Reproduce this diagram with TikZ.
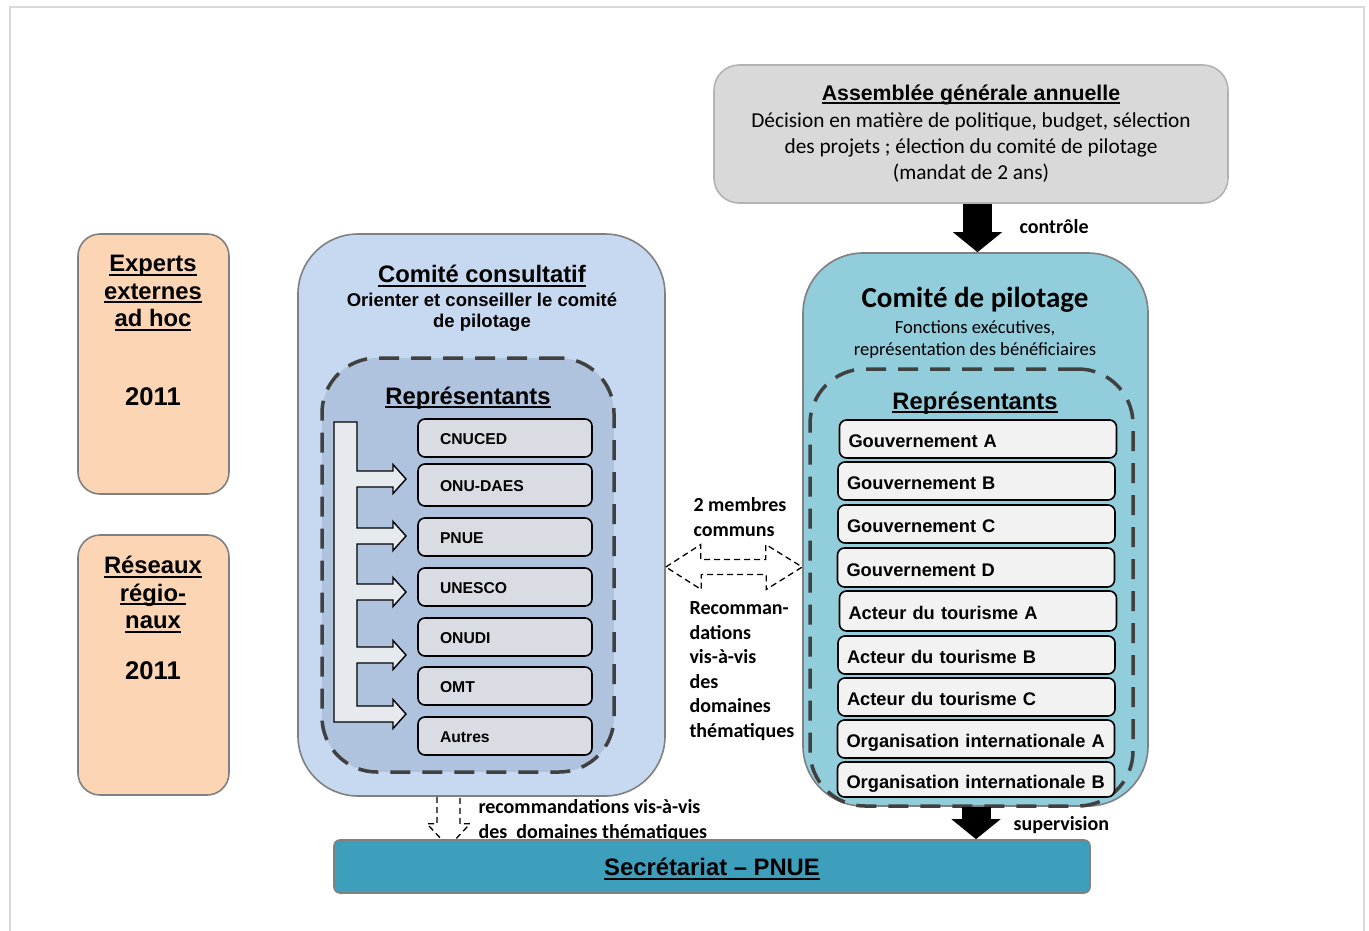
\documentclass[tikz,border=0pt]{standalone}
\usepackage{fontspec}
\setmainfont{Liberation Sans}
\newfontfamily\calib{Carlito}
\usetikzlibrary{arrows.meta}
\definecolor{framegray}{HTML}{D9D9D9}
\definecolor{bordergray}{HTML}{808080}
\definecolor{peach}{HTML}{FCD5B5}
\definecolor{consblue}{HTML}{C6D9F1}
\definecolor{consinner}{HTML}{AFC3DE}
\definecolor{pilblue}{HTML}{92CDDC}
\definecolor{secblue}{HTML}{3E9FBD}
\definecolor{asmgray}{HTML}{D9D9D9}
\definecolor{asmborder}{HTML}{B3B3B3}
\definecolor{itemgray}{HTML}{D9DCE2}
\definecolor{itemlight}{HTML}{F2F2F2}
\definecolor{dashdark}{HTML}{404040}
\definecolor{barfill}{HTML}{E6E9EE}
\newcommand\fsz[2]{\fontsize{#1}{#2}\selectfont}
\newcommand\ulx[1]{\setbox0\hbox{#1}\rlap{\rule[-0.17em]{\wd0}{0.085em}}\box0}
\tikzset{
  outerbox/.style={draw=bordergray, line width=1.6pt},
  dashbox/.style={draw=dashdark, line width=3.5pt, dash pattern=on 20pt off 12pt},
  hd/.style={font=\fsz{23.8}{27.5}\bfseries},
  cbox/.style={draw=black, line width=1.6pt, fill=itemgray, rounded corners=7pt,
    minimum width=174pt, minimum height=38pt, text width=130pt, inner xsep=22pt,
    text height=13.2pt, text depth=0pt,
    align=left, font=\fsz{15.7}{18}\bfseries},
  pbox/.style={draw=black, line width=1.6pt, fill=itemlight, rounded corners=7pt,
    minimum width=277pt, minimum height=38pt, text width=259pt, inner xsep=9pt,
    text height=17pt, text depth=0pt,
    align=left, font=\fsz{18.3}{21}\bfseries},
  lbl/.style={font=\calib\fsz{20}{24.6}\bfseries},
  blockarrow/.style={line width=29pt, -{Triangle[length=20pt,width=48pt]}},
  dashline/.style={draw=black, line width=1.3pt, dash pattern=on 6pt off 4pt}
}
\begin{document}
\begin{tikzpicture}[x=1pt,y=-1pt]
\useasboundingbox (0,0) rectangle (1369,930);
% frame
\draw[framegray, line width=2pt] (10,945) -- (10,7) -- (1364,7) -- (1364,945);

% Assemblee
\node[outerbox, draw=asmborder, fill=asmgray, rounded corners=25pt, minimum width=514pt, minimum height=138pt] (asm) at (971,134) {};
\node[font=\fsz{21.3}{25}\bfseries] (asmt) at (971,95) {\ulx{Assemblée générale annuelle}};
\node[font=\calib\fsz{21.3}{26}, align=center] (asmd) at (971,148) {Décision en matière de politique, budget, sélection\\des projets ; élection du comité de pilotage\\(mandat de 2 ans)};

% Experts / Reseaux
\node[outerbox, fill=peach, rounded corners=22pt, minimum width=151pt, minimum height=260pt] (exp) at (153.5,364) {};
\node[hd, align=center] (expt) at (153,293) {\ulx{Experts}\\\ulx{externes}\\\ulx{ad hoc}};
\node[font=\fsz{25.6}{28}\bfseries] (expy) at (153,397) {2011};
\node[outerbox, fill=peach, rounded corners=22pt, minimum width=151pt, minimum height=260pt] (res) at (153.5,665) {};
\node[hd, align=center] (rest) at (153,594.5) {\ulx{Réseaux}\\\ulx{régio-}\\\ulx{naux}};
\node[font=\fsz{25.6}{28}\bfseries] (resy) at (153,671) {2011};

% Comite consultatif
\node[outerbox, fill=consblue, rounded corners=60pt, minimum width=367pt, minimum height=562pt] (cons) at (481.5,515) {};
\node[hd] (const) at (482,276) {\ulx{Comité consultatif}};
\node[font=\fsz{18.5}{21}\bfseries, align=center] (consd) at (482,312) {Orienter et conseiller le comité\\de pilotage};
\node[dashbox, fill=consinner, rounded corners=55pt, minimum width=292pt, minimum height=414pt] (consin) at (468,565) {};
\node[hd] (consr) at (468,398) {\ulx{Représentants}};
\node[cbox] (c1) at (505,438) {CNUCED};
\node[cbox, minimum height=42pt] (c2) at (505,485) {ONU-DAES};
\node[cbox] (c3) at (505,537) {PNUE};
\node[cbox] (c4) at (505,587) {UNESCO};
\node[cbox] (c5) at (505,637) {ONUDI};
\node[cbox] (c6) at (505,686) {OMT};
\node[cbox] (c7) at (505,736) {Autres};
% branching arrow structure
\draw[black, line width=1.4pt, fill=barfill, line join=miter]
  (334,422) -- (357,422)
  -- (357,471) -- (393,471) -- (393,464.5) -- (406,479) -- (393,493.5) -- (393,487) -- (357,487)
  -- (357,528) -- (393,528) -- (393,521.5) -- (406,536) -- (393,550.5) -- (393,544) -- (357,544)
  -- (357,584) -- (393,584) -- (393,577.5) -- (406,592) -- (393,606.5) -- (393,600) -- (357,600)
  -- (357,647) -- (393,647) -- (393,640.5) -- (406,655) -- (393,669.5) -- (393,663) -- (357,663)
  -- (357,706) -- (393,706) -- (393,699.5) -- (406,714) -- (393,728.5) -- (393,722)
  -- (334,722) -- cycle;

% Comite de pilotage
\node[outerbox, fill=pilblue, rounded corners=60pt, minimum width=345pt, minimum height=553pt] (pil) at (975.5,529.5) {};
\node[font=\calib\fsz{29}{32}\bfseries] (pilt) at (975,300) {Comité de pilotage};
\node[font=\calib\fsz{18.6}{22}, align=center] (pild) at (975,340) {Fonctions exécutives,\\représentation des bénéficiaires};
\node[dashbox, rounded corners=55pt, minimum width=323pt, minimum height=437pt] (pilin) at (971.5,587.5) {};
\node[hd] (pilr) at (975,403) {\ulx{Représentants}};
\node[pbox] (p1) at (978,439) {Gouvernement A};
\node[pbox] (p2) at (976.5,481) {Gouvernement B};
\node[pbox] (p3) at (976.5,524) {Gouvernement C};
\node[pbox, minimum height=39pt] (p4) at (976,567.5) {Gouvernement D};
\node[pbox, minimum height=40pt] (p5) at (978,611) {Acteur du tourisme A};
\node[pbox] (p6) at (976.5,655) {Acteur du tourisme B};
\node[pbox] (p7) at (976.5,697) {Acteur du tourisme C};
\node[pbox] (p8) at (976,739) {Organisation internationale A};
\node[pbox, minimum height=35pt] (p9) at (976,779.5) {Organisation internationale B};

% controle arrow
\coordinate (ctlx) at (977.5,0);
\draw[blockarrow] (asm.south -| ctlx) -- (pil.north -| ctlx);
\node[lbl, anchor=west] (ctl) at (1016,227) {contrôle};

% middle dashed double arrow
\coordinate (ml) at (cons.east |- 0,567);
\coordinate (mr) at (pil.west |- 0,567);
\draw[dashline] (ml) -- ++(35,-22.5) -- ++(0,15) -- ++(65,0) -- ++(0,-15) -- (mr)
  -- ++(-36,22.5) -- ++(0,-15) -- ++(-65,0) -- ++(0,15) -- cycle;
\node[lbl, align=left, anchor=north west] (mtop) at (690,494) {2 membres\\communs};
\node[lbl, align=left, anchor=north west] (mbot) at (686,598) {Recomman-\\dations\\vis-à-vis\\des\\domaines\\thématiques};

% bottom dashed arrow
\coordinate (bd) at (cons.south -| 448.5,0);
\draw[dashline] ([xshift=-11.5pt]bd) -- ++(0,27) -- ++(-10,0) -- ++(21.5,23) -- ++(21.5,-23) -- ++(-10,0) -- ++(0,-27);
\node[lbl, align=left, anchor=north west] (bdl) at (475,796) {recommandations vis-à-vis\\des\ \ domaines thématiques};

% Secretariat
\node[outerbox, fill=secblue, rounded corners=6pt, minimum width=756pt, minimum height=53pt] (sec) at (712,866.5) {};
\node[hd] (sect) at (712,869) {\ulx{Secrétariat – PNUE}};

% supervision arrow
\coordinate (supx) at (976,0);
\draw[blockarrow] (pil.south -| supx) -- (sec.north -| supx);
\node[lbl, anchor=west] (sup) at (1010,825) {supervision};
\end{tikzpicture}
\end{document}
